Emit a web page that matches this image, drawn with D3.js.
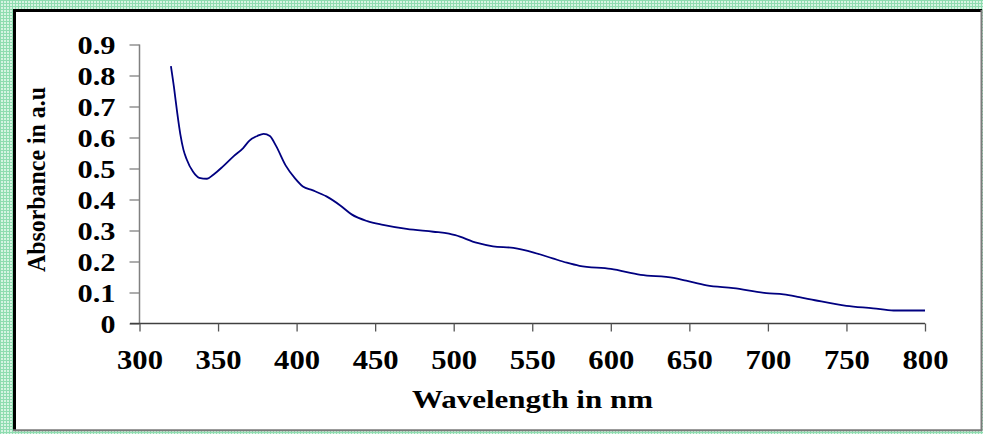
<!DOCTYPE html>
<html>
<head>
<meta charset="utf-8">
<script src="https://cdn.jsdelivr.net/npm/d3@7"></script>
<style>
html,body{margin:0;padding:0;background:#fff;}
svg{display:block;}
text{font-family:"Liberation Serif","Times New Roman",serif;font-weight:bold;fill:#000;}
</style>
</head>
<body>
<svg id="chart" width="983" height="434"></svg>
<script>
// Data
const wavelengths = [320,322,324,326,328,330,334,338,343,347,353,360,366,370,375,379,383,387,393,399,404,410,419,428,435,445,455,470,487,497,501,515,525,538,551,563,572,580,600,619,640,648,661,678,699,710,720,730,750,767,780,800];
const absorbance  = [0.83,0.76,0.68,0.61,0.56,0.53,0.49,0.47,0.467,0.48,0.506,0.54,0.566,0.59,0.605,0.612,0.605,0.572,0.51,0.468,0.442,0.43,0.41,0.38,0.352,0.33,0.318,0.305,0.296,0.29,0.285,0.26,0.249,0.244,0.229,0.21,0.196,0.186,0.176,0.157,0.147,0.138,0.123,0.114,0.098,0.094,0.085,0.075,0.057,0.049,0.042,0.042];
const xTicks = [300,350,400,450,500,550,600,650,700,750,800];
const yTicks = [0,0.1,0.2,0.3,0.4,0.5,0.6,0.7,0.8,0.9];
const xTitle = "Wavelength in nm";
const yTitle = "Absorbance in a.u";

const svg = d3.select("#chart");

// checkered green frame
const defs = svg.append("defs");
const pat = defs.append("pattern").attr("id","chk").attr("width",3).attr("height",3).attr("patternUnits","userSpaceOnUse");
pat.append("rect").attr("width",3).attr("height",3).attr("fill","#d6f4e2");
pat.append("rect").attr("x",0).attr("y",0).attr("width",3).attr("height",1).attr("fill","#8fdcb0");
pat.append("rect").attr("x",0).attr("y",0).attr("width",1).attr("height",3).attr("fill","#8fdcb0");
svg.append("rect").attr("width",983).attr("height",434).attr("fill","url(#chk)");

// chart area
svg.append("rect").attr("x",14).attr("y",10).attr("width",968).attr("height",421).attr("fill","#fff");
svg.append("line").attr("x1",14.5).attr("x2",14.5).attr("y1",10).attr("y2",431).attr("stroke","#000").attr("stroke-width",3);
svg.append("line").attr("x1",13).attr("x2",982).attr("y1",10.5).attr("y2",10.5).attr("stroke","#000").attr("stroke-width",3);
svg.append("line").attr("x1",981.5).attr("x2",981.5).attr("y1",10).attr("y2",431).attr("stroke","#7a7a7a").attr("stroke-width",2);
svg.append("line").attr("x1",13).attr("x2",982).attr("y1",430.3).attr("y2",430.3).attr("stroke","#7a7a7a").attr("stroke-width",2);

const x = d3.scaleLinear().domain([300,800]).range([139.5,925]);
const y = d3.scaleLinear().domain([0,0.9]).range([323.5,44.5]);

// Y axis
const yAxis = svg.append("g").attr("transform","translate(139.5,0)")
  .call(d3.axisLeft(y).tickValues(yTicks).tickSize(10).tickPadding(0).tickFormat(d=>d===0?"0":d3.format(".1f")(d)));
yAxis.select(".domain").attr("stroke","#808080").attr("stroke-width",1.5).attr("d","M0,44.5V323.5");
yAxis.selectAll(".tick line").attr("stroke","#808080").attr("stroke-width",1.3);
yAxis.selectAll(".tick text").attr("x",-24).attr("dy",0).attr("y",9)
  .style("font-size","25px").attr("fill","#000").attr("text-anchor","end")
  .attr("textLength",d=>d===0?15:38).attr("lengthAdjust","spacingAndGlyphs");

// X axis
const xAxis = svg.append("g").attr("transform","translate(0,323.5)")
  .call(d3.axisBottom(x).tickValues(xTicks).tickSize(8).tickPadding(0).tickFormat(d3.format("d")));
xAxis.select(".domain").attr("stroke","#404040").attr("stroke-width",1.5).attr("d","M130,0H925");
xAxis.selectAll(".tick line").attr("stroke","#555").attr("stroke-width",1.3);
xAxis.selectAll(".tick text").attr("y",45).attr("dy",0)
  .style("font-size","27px").attr("fill","#000")
  .attr("textLength",46).attr("lengthAdjust","spacingAndGlyphs");

// line
const line = d3.line().x((d,i)=>x(wavelengths[i])).y(d=>y(d)).curve(d3.curveMonotoneX);
svg.append("path").datum(absorbance).attr("d",line)
  .attr("fill","none").attr("stroke","#000080").attr("stroke-width",1.8);

// titles
svg.append("text").attr("x",532.5).attr("y",408).attr("text-anchor","middle")
  .style("font-size","25px").attr("textLength",241).attr("lengthAdjust","spacingAndGlyphs").text(xTitle);
svg.append("text").attr("transform","translate(45,179.5) rotate(-90)").attr("text-anchor","middle")
  .style("font-size","26px").attr("textLength",185).attr("lengthAdjust","spacingAndGlyphs").text(yTitle);
</script>
</body>
</html>
